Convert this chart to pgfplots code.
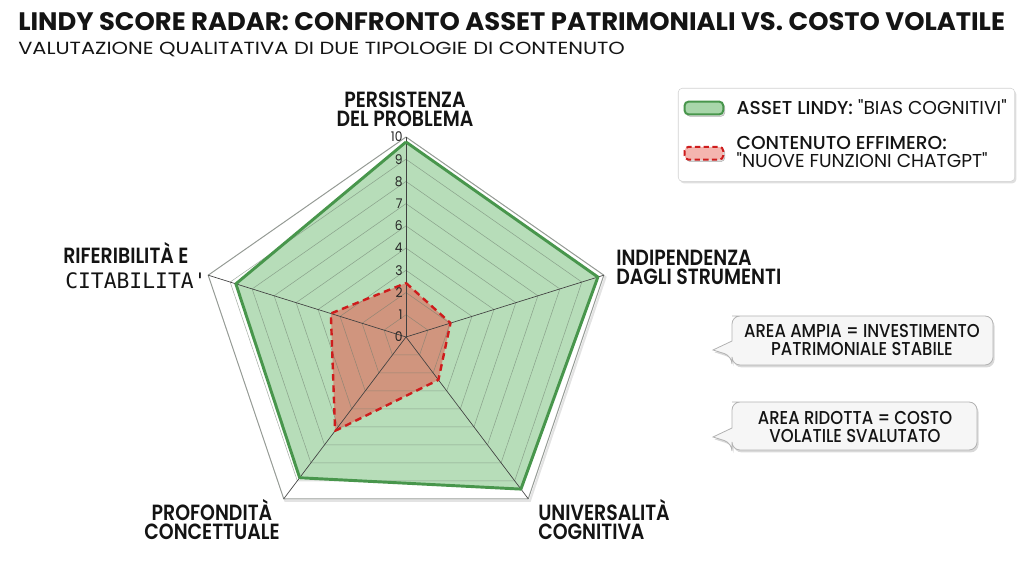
\documentclass[border=0pt]{standalone}
\usepackage{pgfplots}
\pgfplotsset{compat=1.18}
\usepackage{pgfplotstable}
\usepackage{fontspec}
\usetikzlibrary{shadows}
\setmainfont{Poppins}[FakeStretch=0.88]
\newfontfamily\pmed{Poppins Medium}[FakeStretch=0.88]
\newfontfamily\psemi{Poppins SemiBold}[FakeStretch=0.86]
\newfontfamily\preg{Poppins}[FakeStretch=0.92]
\newfontfamily\pleg{Poppins}[Ligatures=TeXOff]
\newfontfamily\plegm{Poppins Medium}[Ligatures=TeXOff]
\newfontfamily\monof{DejaVu Sans Mono}

\definecolor{lindyline}{RGB}{72,150,76}
\definecolor{lindyfill}{RGB}{96,180,100}
\definecolor{effline}{RGB}{206,28,28}
\definecolor{efffill}{RGB}{230,90,78}
\definecolor{gridc}{RGB}{110,125,110}
\definecolor{txt}{RGB}{20,20,20}
\definecolor{callfill}{RGB}{246,246,246}

% angle (deg)  Lindy asset  ephemeral content
\pgfplotstableread{
angle lindy effimero
90    9.75  2.7
18    9.7   2.25
-54   9.4   2.65
-126  8.7   5.8
-198  8.6   3.8
-270  9.75  2.7
}\radardata

\begin{document}
\begin{tikzpicture}
\path[use as bounding box] (0pt,0pt) rectangle (768pt,-424.5pt);

\begin{axis}[
  at={(304.5pt,-252.75pt)}, anchor=center,
  scale only axis, width=312pt, height=300pt,
  xmin=-10, xmax=10, ymin=-10, ymax=10,
  hide axis, clip=false,
  legend style={at={(1.1538,1.1225)}, anchor=north west,
    draw=gray!35, fill=white, rounded corners=3pt,
    drop shadow={shadow xshift=1.2pt, shadow yshift=-1.5pt, opacity=0.25},
    font=\pleg\fontsize{14}{13.8}\selectfont\color{txt},
    cells={anchor=west, align=left},
    inner xsep=4pt, inner ysep=6.5pt, row sep=11pt},
]
% outer frame (soft shadow + line)
\addplot[forget plot, draw=gray!22, line width=1.6pt, xshift=1.2pt, yshift=-1.5pt, data cs=polar]
  table[x=angle, y expr=10] {\radardata};
\addplot[forget plot, draw=gray!55, line width=0.8pt, fill=white, data cs=polar]
  table[x=angle, y expr=10] {\radardata};
% fills
\addplot[forget plot, fill=lindyfill, fill opacity=0.45, draw=none, data cs=polar]
  table[x=angle, y=lindy] {\radardata};
\addplot[forget plot, fill=efffill, fill opacity=0.55, draw=none, data cs=polar]
  table[x=angle, y=effimero] {\radardata};
% grid pentagons
\pgfplotsinvokeforeach{1,...,9}{
  \addplot[forget plot, draw=gridc, draw opacity=0.6, line width=0.4pt, data cs=polar]
    table[x=angle, y expr=#1*10/9] {\radardata};
}
% spokes
\pgfplotsinvokeforeach{90,18,-54,-126,162}{
  \addplot[forget plot, draw=black!75, line width=0.5pt, data cs=polar]
    coordinates {(#1,0) (#1,10)};
}
% outlines
\addplot[forget plot, draw=lindyline, line width=2.2pt, line join=round, data cs=polar]
  table[x=angle, y=lindy] {\radardata};
\addplot[forget plot, draw=effline, line width=1.8pt, dash pattern=on 5pt off 3.5pt, line join=round, data cs=polar]
  table[x=angle, y=effimero] {\radardata};

% legend
\addlegendimage{legend image code/.code={\draw[draw=lindyline, line width=1.5pt, fill=lindyfill!55] (0pt,-4.8pt) rectangle (29pt,4.8pt); \path[draw=none, fill=none] (0pt,0pt) (37pt,0pt);}}
\addlegendentry{{\plegm ASSET LINDY:} "BIAS COGNITIVI"}
\addlegendimage{legend image code/.code={\draw[draw=effline, line width=1.5pt, dash pattern=on 4pt off 2.5pt, fill=efffill!45] (0pt,-4.8pt) rectangle (29pt,4.8pt); \path[draw=none, fill=none] (0pt,0pt) (37pt,0pt);}}
\addlegendentry{{\plegm CONTENUTO EFFIMERO:}\\"NUOVE FUNZIONI CHATGPT"}

% radial tick labels (as printed in the reference)
\tikzset{tl/.style={anchor=east, inner sep=0pt, font=\preg\fontsize{10}{10}\selectfont, text=black!85}}
\node[tl] at (axis cs:-0.15,0) {0};
\node[tl] at (axis cs:-0.15,1.1111) {1};
\node[tl] at (axis cs:-0.15,2.2222) {2};
\node[tl] at (axis cs:-0.15,3.3333) {3};
\node[tl] at (axis cs:-0.15,4.4444) {4};
\node[tl] at (axis cs:-0.15,5.5556) {6};
\node[tl] at (axis cs:-0.15,6.6667) {7};
\node[tl] at (axis cs:-0.15,7.7778) {8};
\node[tl] at (axis cs:-0.15,8.8889) {9};
\node[tl] at (axis cs:-0.15,10) {10};
\end{axis}

\begin{scope}[x=0.75pt,y=-0.75pt]
% title and subtitle
\node[anchor=base west, inner sep=0pt, text=txt] at (18,31)
  {\resizebox{740pt}{13.5pt}{\bfseries LINDY SCORE RADAR: CONFRONTO ASSET PATRIMONIALI VS. COSTO VOLATILE}};
\node[anchor=base west, inner sep=0pt, text=txt] at (18,55)
  {\resizebox{455pt}{9.3pt}{\preg VALUTAZIONE QUALITATIVA DI DUE TIPOLOGIE DI CONTENUTO}};

% category labels
\tikzset{cl/.style={inner sep=0pt, text=txt, font=\psemi\fontsize{16.5}{14.5}\selectfont}}
\node[cl, anchor=south, align=center] at (405,127) {PERSISTENZA\\DEL PROBLEMA};
\node[cl, anchor=south west, align=left] at (616,285) {INDIPENDENZA\\DAGLI STRUMENTI};
\node[cl, anchor=south west, align=left] at (538,540) {UNIVERSALITÀ\\COGNITIVA};
\node[cl, anchor=south, align=center] at (212,540) {PROFONDITÀ\\CONCETTUALE};
\node[cl, anchor=base west] at (63,264) {RIFERIBILITÀ E};
\node[anchor=base west, inner sep=0pt, text=txt, font=\monof\fontsize{16}{18}\selectfont] at (65,289) {CITABILITA'};

% callouts
\tikzset{co/.style={draw=gray!60, fill=callfill, line width=0.6pt,
  drop shadow={shadow xshift=1.2pt, shadow yshift=-1.8pt, opacity=0.3}}}
\draw[co, rounded corners=6pt] (740,316) -- (993,316) -- (993,365) -- (732,365)
  -- (732,356) [sharp corners] -- (713,350) -- (732,341) [rounded corners=6pt] -- (732,316) -- cycle;
\draw[co, rounded corners=6pt] (740,402) -- (977,402) -- (977,450) -- (732,450)
  -- (732,443) [sharp corners] -- (713,437) -- (732,428) [rounded corners=6pt] -- (732,402) -- cycle;
\tikzset{ct/.style={anchor=base, inner sep=0pt, text=txt, font=\pmed\fontsize{14}{16}\selectfont}}
\node[ct] at (862,338) {AREA AMPIA = INVESTIMENTO};
\node[ct] at (862,356) {PATRIMONIALE STABILE};
\node[ct] at (855,424) {AREA RIDOTTA = COSTO};
\node[ct] at (855,442) {VOLATILE SVALUTATO};
\end{scope}
\end{tikzpicture}
\end{document}
